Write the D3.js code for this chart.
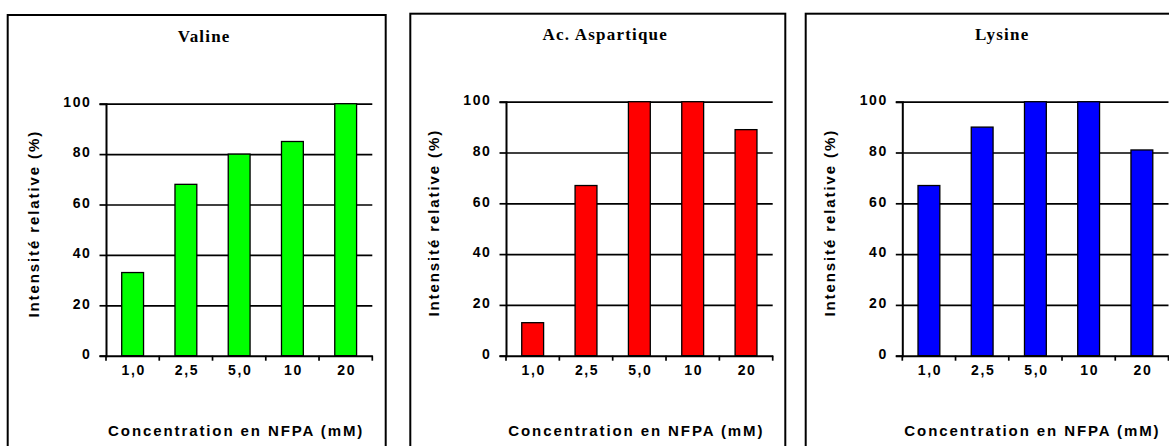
<!DOCTYPE html>
<html>
<head>
<meta charset="utf-8">
<script src="https://cdn.jsdelivr.net/npm/d3@7/dist/d3.min.js"></script>
<style>
  html, body { margin: 0; padding: 0; background: #fff; }
  svg { display: block; }
  .tick-label { font-family: "Liberation Sans", Arial, sans-serif; font-weight: bold; font-size: 14px; letter-spacing: 1.6px; fill: #000; }
  .axis-title { font-family: "Liberation Sans", Arial, sans-serif; font-weight: bold; font-size: 15px; letter-spacing: 1.9px; fill: #000; }
  .panel-title { font-family: "Liberation Serif", "Times New Roman", serif; font-weight: bold; font-size: 17px; letter-spacing: 1.2px; fill: #000; }
</style>
</head>
<body>
<svg id="chart" width="1169" height="446"></svg>
<script>
// NFPA concentrations (mM) on the x axis
const categories = ["1,0", "2,5", "5,0", "10", "20"];

// Relative intensity (%) per amino acid
const valine     = [33, 68, 80, 85, 100];
const aspartique = [13, 67, 100, 100, 89];
const lysine     = [67, 90, 100, 100, 81];

const yTicks = [0, 20, 40, 60, 80, 100];
const titles = ["Valine", "Ac. Aspartique", "Lysine"];
const yAxisTitle = "Intensité relative (%)";
const xAxisTitle = "Concentration en NFPA (mM)";

const seriesList = [valine, aspartique, lysine];
const colors = ["#00ff00", "#ff0000", "#0000ff"];

// Panel frames and plot areas
const layout = [
  { fx: 7.7,   fy: 15,   fw: 378, left: 106,   right: 372.3,  top: 103.7, bottom: 355.7 },
  { fx: 410.3, fy: 13.7, fw: 375, left: 506,   right: 772.7,  top: 101.7, bottom: 355.7 },
  { fx: 805.7, fy: 13.7, fw: 378, left: 902.3, right: 1168.5, top: 101.7, bottom: 355.7 }
];

const svg = d3.select("#chart");

layout.forEach((L, i) => {
  const g = svg.append("g");
  const values = seriesList[i];

  // frame
  g.append("rect")
    .attr("x", L.fx).attr("y", L.fy)
    .attr("width", L.fw).attr("height", 480)
    .attr("fill", "none").attr("stroke", "#000").attr("stroke-width", 2);

  // title
  g.append("text").attr("class", "panel-title")
    .attr("x", L.fx + L.fw / 2 + 7.5).attr("y", L.fy + 26.5)
    .attr("text-anchor", "middle")
    .text(titles[i]);

  const x = d3.scaleBand().domain(categories).range([L.left, L.right]).padding(0);
  const y = d3.scaleLinear().domain([0, 100]).range([L.bottom, L.top]);

  // horizontal gridlines
  const grid = g.append("g")
    .attr("transform", `translate(${L.left},0)`)
    .call(d3.axisLeft(y).tickValues(yTicks.slice(1)).tickSize(-(L.right - L.left)).tickFormat(""));
  grid.select(".domain").remove();
  grid.selectAll(".tick line").attr("stroke", "#000").attr("stroke-width", 1.7);

  // bars
  const barW = x.bandwidth() * 0.41;
  g.selectAll("rect.bar").data(values).enter().append("rect")
    .attr("class", "bar")
    .attr("x", (d, k) => x(categories[k]) + x.bandwidth() / 2 - barW / 2)
    .attr("y", d => y(d))
    .attr("width", barW)
    .attr("height", d => y(0) - y(d))
    .attr("fill", colors[i])
    .attr("stroke", "#000").attr("stroke-width", 1.3);

  // y axis
  const yAxis = g.append("g")
    .attr("transform", `translate(${L.left},0)`)
    .call(d3.axisLeft(y).tickValues(yTicks).tickSize(6.5).tickPadding(8));
  yAxis.attr("font-size", null).attr("font-family", null);
  yAxis.select(".domain").attr("stroke", "#000").attr("stroke-width", 2);
  yAxis.selectAll(".tick line").attr("stroke", "#000").attr("stroke-width", 1.7);
  yAxis.selectAll(".tick text")
    .attr("class", "tick-label")
    .attr("dy", "0.2em");

  // x axis baseline
  const xAxis = g.append("g")
    .attr("transform", `translate(0,${L.bottom})`)
    .call(d3.axisBottom(x).tickSize(0).tickPadding(19.5).tickSizeOuter(0));
  xAxis.attr("font-size", null).attr("font-family", null);
  xAxis.select(".domain").attr("stroke", "#000").attr("stroke-width", 2);
  xAxis.selectAll(".tick text")
    .attr("class", "tick-label")
    .attr("dy", "0")
    .attr("dx", "1px");

  // x ticks at category boundaries
  const bounds = categories.map(c => x(c)).concat([x.range()[1]]);
  g.selectAll("line.xb").data(bounds).enter().append("line")
    .attr("class", "xb")
    .attr("x1", d => d).attr("x2", d => d)
    .attr("y1", L.bottom).attr("y2", L.bottom + 5)
    .attr("stroke", "#000").attr("stroke-width", 1.7);

  // axis titles
  g.append("text").attr("class", "axis-title")
    .attr("transform", `translate(${L.left - 67},${(L.top + L.bottom) / 2 - 6}) rotate(-90)`)
    .attr("text-anchor", "middle")
    .text(yAxisTitle);

  g.append("text").attr("class", "axis-title")
    .attr("x", (L.left + L.right) / 2 - 3).attr("y", 436)
    .attr("text-anchor", "middle")
    .text(xAxisTitle);
});
</script>
</body>
</html>
